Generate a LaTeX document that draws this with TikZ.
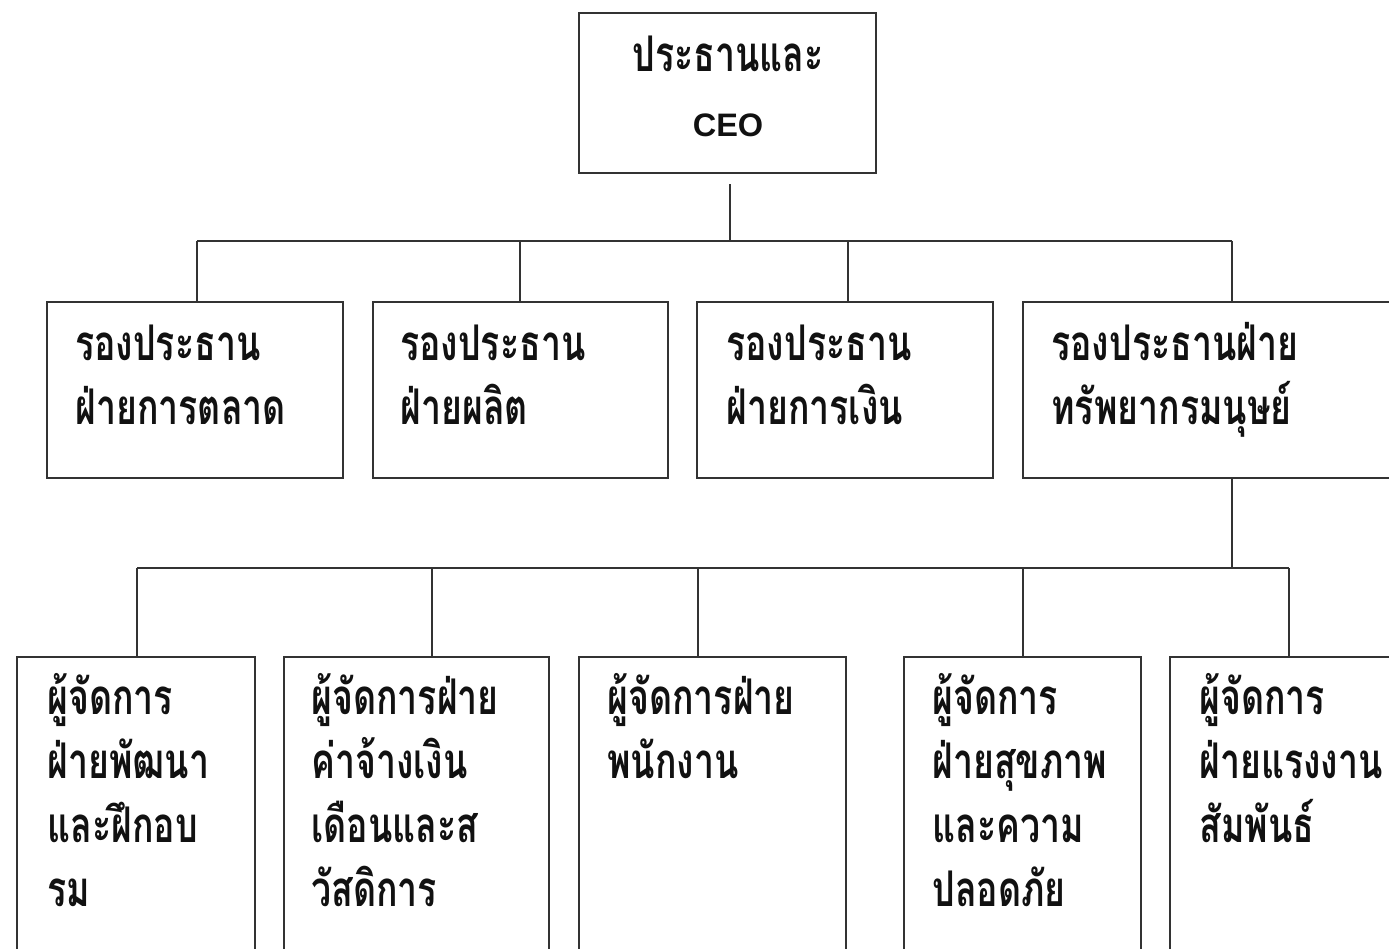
\documentclass[tikz,border=0pt]{standalone}
\usepackage{fontspec}
\newfontfamily\thaifont[Script=Thai,FakeStretch=0.725]{Loma}
\newfontfamily\ceofont[FakeStretch=1.0]{Liberation Sans}
\definecolor{linec}{HTML}{333333}
\definecolor{txtc}{HTML}{111111}
\newcommand\thaitext{\thaifont\bfseries\fontsize{28pt}{36.6pt}\selectfont\baselineskip=36.6pt\lineskiplimit=-1000pt\lineskip=0pt}
\newcommand\lftlines[1]{\vtop{\halign{##\hfil\cr #1\crcr}}}
\newcommand\ctrlines[1]{\vtop{\halign{\hfil##\hfil\cr #1\crcr}}}
\newcommand\bx[6][]{\node[box,#1,minimum width={(#5-#3)*0.02cm},minimum height={(#6-#4)*0.02cm}] (#2) at ({(#3+#5)/2},{(#4+#6)/2}) {};}
\tikzset{
  box/.style={draw=linec,line width=0.05cm,inner sep=0pt},
  conn/.style={draw=linec,line width=0.05cm},
  lbl/.style={anchor=base west,inner sep=0pt,text=txtc,font=\thaitext},
  clbl/.style={anchor=base,inner sep=0pt,text=txtc,font=\thaitext},
}
\begin{document}
\begin{tikzpicture}[x=0.02cm,y=-0.02cm]
\useasboundingbox (0,0) rectangle (1389,949);
\clip (0,0) rectangle (1389,949);
% boxes
\bx{ceo}{579}{13}{876}{173}
\bx{v1}{47}{302}{343}{478}
\bx{v2}{373}{302}{668}{478}
\bx{v3}{697}{302}{993}{478}
\bx{v4}{1023}{302}{1420}{478}
\bx{m1}{17}{657}{255}{990}
\bx{m2}{284}{657}{549}{990}
\bx{m3}{579}{657}{846}{990}
\bx{m4}{904}{657}{1141}{990}
\bx{m5}{1170}{657}{1420}{990}
% labels
\node[clbl] (tceo) at (728,72) {\ctrlines{ประธานและ\cr {\ceofont\fontsize{18.5pt}{20pt}\selectfont CEO}}};
\node[lbl] (tv1) at (75,360) {\lftlines{รองประธาน\cr ฝ่ายการตลาด}};
\node[lbl] (tv2) at (400,360) {\lftlines{รองประธาน\cr ฝ่ายผลิต}};
\node[lbl] (tv3) at (726,360) {\lftlines{รองประธาน\cr ฝ่ายการเงิน}};
\node[lbl] (tv4) at (1051,360) {\lftlines{รองประธานฝ่าย\cr ทรัพยากรมนุษย์}};
\node[lbl] (tm1) at (47,714) {\lftlines{ผู้จัดการ\cr ฝ่ายพัฒนา\cr และฝึกอบ\cr รม}};
\node[lbl] (tm2) at (311,714) {\lftlines{ผู้จัดการฝ่าย\cr ค่าจ้างเงิน\cr เดือนและส\cr วัสดิการ}};
\node[lbl] (tm3) at (607,714) {\lftlines{ผู้จัดการฝ่าย\cr พนักงาน}};
\node[lbl] (tm4) at (932,714) {\lftlines{ผู้จัดการ\cr ฝ่ายสุขภาพ\cr และความ\cr ปลอดภัย}};
\node[lbl] (tm5) at (1199,714) {\lftlines{ผู้จัดการ\cr ฝ่ายแรงงาน\cr สัมพันธ์}};
% junctions
\coordinate (c0) at (730,241);
\coordinate (c1) at (197,241);
\coordinate (c2) at (520,241);
\coordinate (c3) at (848,241);
\coordinate (c4) at (1232,241);
\coordinate (d0) at (1232,568);
\coordinate (d1) at (137,568);
\coordinate (d2) at (432,568);
\coordinate (d3) at (698,568);
\coordinate (d4) at (1023,568);
\coordinate (d5) at (1289,568);
% connectors
\draw[conn,shorten <=0.2cm] (ceo.south -| c0) -- (c0);
\draw[conn] (c1) -- (c4);
\draw[conn] (c1) -- (c1 |- v1.north);
\draw[conn] (c2) -- (c2 |- v2.north);
\draw[conn] (c3) -- (c3 |- v3.north);
\draw[conn] (c4) -- (c4 |- v4.north);
\draw[conn] (v4.south -| d0) -- (d0);
\draw[conn] (d1) -- (d5);
\draw[conn] (d1) -- (d1 |- m1.north);
\draw[conn] (d2) -- (d2 |- m2.north);
\draw[conn] (d3) -- (d3 |- m3.north);
\draw[conn] (d4) -- (d4 |- m4.north);
\draw[conn] (d5) -- (d5 |- m5.north);
\end{tikzpicture}
\end{document}
